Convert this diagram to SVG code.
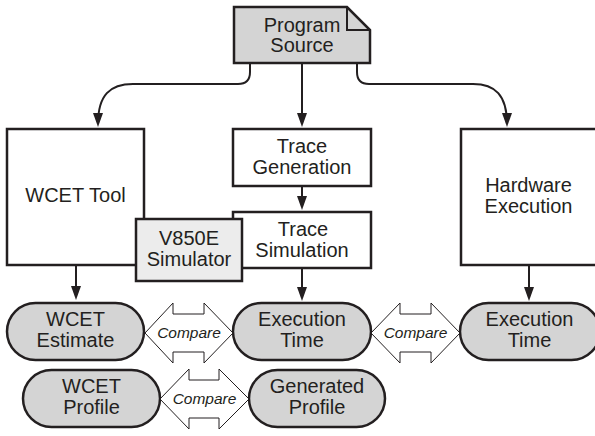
<svg xmlns="http://www.w3.org/2000/svg" width="595" height="436" viewBox="0 0 595 436">
<defs>
<style>
.box{fill:#fff;stroke:#231f20;stroke-width:2.5}
.gray{fill:#d4d4d4;stroke:#231f20;stroke-width:2.5}
.light{fill:#ececec;stroke:#231f20;stroke-width:2.5}
.cmp{fill:#fff;stroke:#231f20;stroke-width:1}
.t{font-family:"Liberation Sans",Arial,sans-serif;font-size:20px;fill:#231f20;text-anchor:middle}
.c{font-family:"Liberation Sans",Arial,sans-serif;font-size:15.5px;font-style:italic;fill:#231f20;text-anchor:middle}
.ln{fill:none;stroke:#231f20;stroke-width:2}
</style>
<marker id="ah" markerUnits="userSpaceOnUse" markerWidth="16" markerHeight="12" refX="11" refY="5" orient="auto">
<path d="M0,0 L14,5 L0,10 z" fill="#231f20"/>
</marker>
</defs>
<g id="connectors">
<path class="ln" d="M250,63 V72 Q250,84 238,84 H133 C110,84 98,95 98,124" marker-end="url(#ah)"/>
<path class="ln" d="M357,63 V72 Q357,84 369,84 H473 C495,84 507,95 507,124" marker-end="url(#ah)"/>
<path class="ln" d="M302,63 V124" marker-end="url(#ah)"/>
<path class="ln" d="M302,186 V207" marker-end="url(#ah)"/>
<path class="ln" d="M76,265 V297" marker-end="url(#ah)"/>
<path class="ln" d="M302,268 V298" marker-end="url(#ah)"/>
<path class="ln" d="M529,265 V298" marker-end="url(#ah)"/>
</g>
<g id="program-source">
<path class="gray" d="M234,7 H347 L370,30 V63 H234 Z"/>
<path class="ln" d="M347,7 V30 H370" stroke-width="2.5"/>
<text class="t" x="302" y="32">Program</text>
<text class="t" x="302" y="52">Source</text>
</g>
<g id="wcet-tool">
<rect class="box" x="7" y="129" width="137" height="136"/>
<text class="t" x="75.5" y="202">WCET Tool</text>
</g>
<g id="trace-generation">
<rect class="box" x="233" y="129" width="138" height="57"/>
<text class="t" x="302" y="153">Trace</text>
<text class="t" x="302" y="174">Generation</text>
</g>
<g id="trace-simulation">
<rect class="box" x="233" y="212" width="138" height="56"/>
<text class="t" x="303" y="236">Trace</text>
<text class="t" x="302" y="257">Simulation</text>
</g>
<g id="v850e-simulator">
<rect class="light" x="136" y="219" width="106" height="62"/>
<text class="t" x="189" y="245">V850E</text>
<text class="t" x="189" y="266">Simulator</text>
</g>
<g id="hardware-execution">
<rect class="box" x="461" y="129" width="140" height="136"/>
<text class="t" x="528.5" y="192">Hardware</text>
<text class="t" x="528.5" y="213">Execution</text>
</g>
<g id="wcet-estimate">
<rect class="gray" x="7" y="303" width="137" height="57" rx="28.5"/>
<text class="t" x="75.5" y="326">WCET</text>
<text class="t" x="75.5" y="347">Estimate</text>
</g>
<g id="execution-time-sim">
<rect class="gray" x="233" y="303" width="138" height="57" rx="28.5"/>
<text class="t" x="302" y="326">Execution</text>
<text class="t" x="302" y="347">Time</text>
</g>
<g id="execution-time-hw">
<rect class="gray" x="460" y="303" width="140" height="57" rx="28.5"/>
<text class="t" x="529.5" y="326">Execution</text>
<text class="t" x="529.5" y="347">Time</text>
</g>
<g id="wcet-profile">
<rect class="gray" x="23" y="370" width="137" height="57" rx="28.5"/>
<text class="t" x="91.5" y="393">WCET</text>
<text class="t" x="91.5" y="414">Profile</text>
</g>
<g id="generated-profile">
<rect class="gray" x="249" y="370" width="136" height="57" rx="28.5"/>
<text class="t" x="317" y="393">Generated</text>
<text class="t" x="317" y="414">Profile</text>
</g>
<g id="compare-1">
<polygon class="cmp" points="145,333 173,303 173,314 204,314 204,303 233,333 204,363 204,352 173,352 173,363"/>
<text class="c" x="189" y="338">Compare</text>
</g>
<g id="compare-2">
<polygon class="cmp" points="371,333 400,303 400,314 431,314 431,303 460,333 431,363 431,352 400,352 400,363"/>
<text class="c" x="415.5" y="338">Compare</text>
</g>
<g id="compare-3">
<polygon class="cmp" points="160,399 189,369 189,380 219,380 219,369 249,399 219,429 219,418 189,418 189,429"/>
<text class="c" x="204.5" y="404">Compare</text>
</g>
</svg>
